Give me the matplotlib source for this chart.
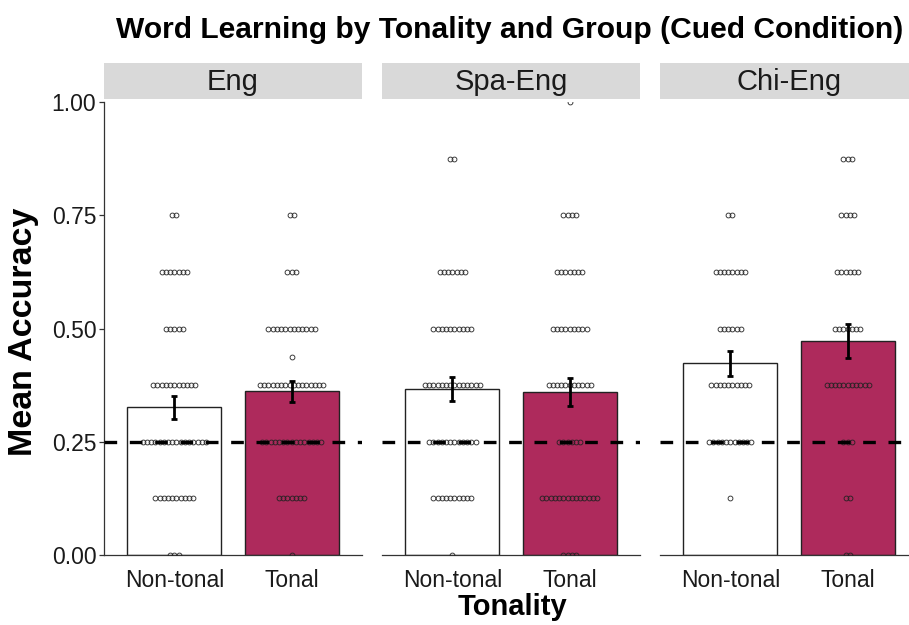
import matplotlib
matplotlib.use("Agg")
import matplotlib.pyplot as plt
import numpy as np

plt.rcParams['font.family'] = ['Liberation Sans', 'DejaVu Sans']

# ---------------- data ----------------
groups = ["Eng", "Spa-Eng", "Chi-Eng"]
tonality = ["Non-tonal", "Tonal"]

eng_means = [0.326, 0.361]
spa_means = [0.367, 0.360]
chi_means = [0.423, 0.472]

eng_se = [0.025, 0.023]
spa_se = [0.027, 0.031]
chi_se = [0.0275, 0.037]

levels = [0.0, 0.125, 0.25, 0.375, 0.4375, 0.5, 0.625, 0.75, 0.875, 1.0]
eng_nontonal_counts = [3, 10, 16, 11, 0, 5, 7, 2, 0, 0]
eng_tonal_counts = [1, 7, 15, 16, 1, 12, 3, 2, 0, 0]
spa_nontonal_counts = [1, 10, 12, 14, 0, 10, 7, 0, 2, 0]
spa_tonal_counts = [4, 14, 6, 11, 0, 9, 7, 4, 0, 1]
chi_nontonal_counts = [0, 1, 11, 10, 0, 6, 8, 2, 0, 0]
chi_tonal_counts = [2, 2, 3, 11, 0, 7, 6, 4, 3, 0]

chance_level = 0.25
y_ticks = [0.00, 0.25, 0.50, 0.75, 1.00]
y_tick_labels = ["0.00", "0.25", "0.50", "0.75", "1.00"]

means = [eng_means, spa_means, chi_means]
ses = [eng_se, spa_se, chi_se]
counts = [[eng_nontonal_counts, eng_tonal_counts],
          [spa_nontonal_counts, spa_tonal_counts],
          [chi_nontonal_counts, chi_tonal_counts]]

# ---------------- style ----------------
W, H = 909, 625
fig = plt.figure(figsize=(W / 100, H / 100), dpi=100)
fill_colors = ["white", "#AE2A5C"]
text_col = "#1A1A1A"

panel_left_px = [104, 382, 660]
panel_w_px = 258
panel_top_px, panel_bot_px = 102, 555
strip_top_px, strip_bot_px = 63, 99

dot_step = 0.036

for gi, g in enumerate(groups):
    l = panel_left_px[gi] / W
    b = (H - panel_bot_px) / H
    ax = fig.add_axes([l, b, panel_w_px / W, (panel_bot_px - panel_top_px) / H])
    x = np.arange(1, 3)
    ax.bar(x, means[gi], width=0.8, color=fill_colors, edgecolor="#222222",
           linewidth=1.0, zorder=2)
    ax.axhline(chance_level, color="black", lw=2.4, ls=(0, (3.8, 3.8)), zorder=4)
    for ti in range(2):
        xs, ys = [], []
        for lev, n in zip(levels, counts[gi][ti]):
            for k in range(n):
                xs.append(x[ti] + (k - (n - 1) / 2) * dot_step)
                ys.append(lev)
        ax.plot(xs, ys, ls="none", marker="o", ms=3.5, mfc="none",
                mec="#222222", mew=0.6, zorder=3)
    ax.errorbar(x, means[gi], yerr=ses[gi], fmt="none", ecolor="black",
                elinewidth=2.0, capsize=2.2, capthick=2.0, zorder=5)
    ax.set_xlim(0.4, 2.6)
    ax.set_ylim(0, 1)
    ax.set_xticks(x)
    ax.set_xticklabels(tonality, fontsize=16.5, color=text_col)
    ax.tick_params(axis="x", length=0, pad=10)
    for s in ["top", "right"]:
        ax.spines[s].set_visible(False)
    ax.spines["bottom"].set_color("#333333")
    ax.spines["bottom"].set_linewidth(0.9)
    if gi == 0:
        ax.set_yticks(y_ticks)
        ax.set_yticklabels(y_tick_labels, fontsize=16.5, color=text_col)
        ax.tick_params(axis="y", length=3.5, width=0.9, color="#333333", pad=2)
        ax.spines["left"].set_color("#333333")
        ax.spines["left"].set_linewidth(0.9)
    else:
        ax.spines["left"].set_visible(False)
        ax.set_yticks([])
    # strip
    sax = fig.add_axes([l, (H - strip_bot_px) / H, panel_w_px / W,
                        (strip_bot_px - strip_top_px) / H])
    sax.set_facecolor("#D9D9D9")
    sax.set_xticks([]); sax.set_yticks([])
    for s in sax.spines.values():
        s.set_visible(False)
    sax.text(0.5, 0.48, g, ha="center", va="center", fontsize=21,
             color=text_col, transform=sax.transAxes)

fig.text(510 / W, 1 - 30 / H, "Word Learning by Tonality and Group (Cued Condition)",
         ha="center", va="center", fontsize=21.6, fontweight="bold", color="black")
fig.text(512 / W, 1 - 607 / H, "Tonality", ha="center", va="center",
         fontsize=21, fontweight="bold", color="black")
fig.text(24 / W, 1 - 332 / H, "Mean Accuracy", ha="center", va="center",
         rotation=90, fontsize=24.5, fontweight="bold", color="black")

fig.savefig("out.png", dpi=100)
